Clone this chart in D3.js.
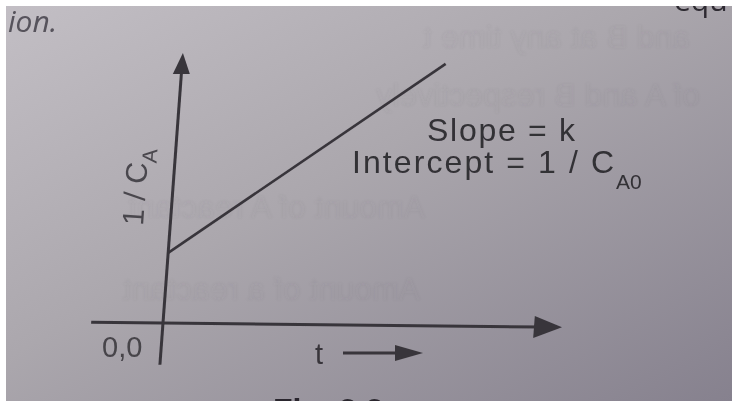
<!DOCTYPE html>
<html>
<head>
<meta charset="utf-8">
<script src="https://cdn.jsdelivr.net/npm/d3@7"></script>
<style>
  html, body { margin: 0; padding: 0; background: #fff; }
  svg { display: block; }
</style>
</head>
<body>
<svg id="fig" width="732" height="401"></svg>
<script>
// Second-order kinetics plot: 1/CA against t is a straight line
const tValues = [0, 6.6];          // time, arbitrary units
const invCA = [2.6, 9.7];          // 1 / CA at those times
const xAxisSpan = [-1.8, 10];      // extent of the t axis line
const yAxisSpan = [-1.55, 10];     // extent of the 1/CA axis line

const W = 732, H = 401;
const ink = "#38353b";
const svg = d3.select("#fig");
const defs = svg.append("defs");

// paper tone
const grad = defs.append("linearGradient").attr("id", "paper")
  .attr("x1", 0).attr("y1", 0).attr("x2", 1).attr("y2", 1);
grad.append("stop").attr("offset", 0).attr("stop-color", "#c3bfc5");
grad.append("stop").attr("offset", 0.45).attr("stop-color", "#aba7ad");
grad.append("stop").attr("offset", 1).attr("stop-color", "#86818e");

const soft = defs.append("filter").attr("id", "soft");
soft.append("feGaussianBlur").attr("stdDeviation", 0.55);
const haze = defs.append("filter").attr("id", "haze");
haze.append("feGaussianBlur").attr("stdDeviation", 1.4);

svg.append("rect").attr("width", W).attr("height", H).attr("fill", "url(#paper)");

// faint show-through of the reverse page (mirrored)
const reverseLines = [
  { text: "and B at any time t", x: 690, y: 48 },
  { text: "of A and B respectively", x: 700, y: 106 },
  { text: "Amount of A reactant", x: 425, y: 218 },
  { text: "Amount of a reactant", x: 420, y: 300 }
];
svg.append("g").attr("filter", "url(#haze)")
  .selectAll("text").data(reverseLines).join("text")
  .attr("transform", d => `translate(${d.x},${d.y}) scale(-1,1)`)
  .attr("font-family", "Liberation Sans, Arial, sans-serif")
  .attr("font-size", 32)
  .attr("fill", "#4a4550")
  .attr("opacity", 0.045)
  .text(d => d.text);

const ink_g = svg.append("g").attr("filter", "url(#soft)");

// surrounding page text
ink_g.append("text").attr("x", 8).attr("y", 32)
  .attr("font-family", "Open Sans, sans-serif").attr("font-style", "italic")
  .attr("font-size", 30).attr("fill", "#57535b").text("ion.");
ink_g.append("text").attr("x", 674).attr("y", 11)
  .attr("font-family", "Open Sans, sans-serif")
  .attr("font-size", 30).attr("fill", "#2e2b31").text("equ");
ink_g.append("text").attr("x", 273).attr("y", 421)
  .attr("font-family", "Liberation Sans, Arial, sans-serif").attr("font-weight", "bold")
  .attr("font-size", 32).attr("fill", "#2b282e").text("Fig. 2.2");

// plot frame: slightly sheared, as printed
const x = d3.scaleLinear().domain([0, 10]).range([0, 399]);
const y = d3.scaleLinear().domain([0, 10]).range([0, -270]);
const plot = ink_g.append("g")
  .attr("transform", "matrix(1,0.0107,-0.0737,1,163,323)");

// t axis with arrowhead
plot.append("line")
  .attr("x1", x(xAxisSpan[0])).attr("y1", 0)
  .attr("x2", x(xAxisSpan[1]) - 20).attr("y2", 0)
  .attr("stroke", ink).attr("stroke-width", 3);
plot.append("path")
  .attr("d", `M${x(xAxisSpan[1])},0 L${x(xAxisSpan[1]) - 28},-11 L${x(xAxisSpan[1]) - 28},11 Z`)
  .attr("fill", ink);

// 1/CA axis with arrowhead
plot.append("line")
  .attr("x1", 0).attr("y1", y(yAxisSpan[0]))
  .attr("x2", 0).attr("y2", y(yAxisSpan[1]) + 16)
  .attr("stroke", ink).attr("stroke-width", 3);
plot.append("path")
  .attr("d", `M0,${y(yAxisSpan[1])} L-8.5,${y(yAxisSpan[1]) + 21} L8.5,${y(yAxisSpan[1]) + 21} Z`)
  .attr("fill", ink);

// the straight line
const pts = tValues.map((t, i) => [x(t), y(invCA[i])]);
plot.append("path")
  .attr("d", d3.line()(pts))
  .attr("fill", "none").attr("stroke", ink).attr("stroke-width", 2.7);

// labels
const font = "Liberation Sans, Arial, Helvetica, sans-serif";
ink_g.append("text").attr("x", 102).attr("y", 357)
  .attr("font-family", font).attr("font-size", 29).attr("fill", "#47444a").text("0,0");

ink_g.append("text").attr("x", 315).attr("y", 364)
  .attr("font-family", font).attr("font-size", 29).attr("fill", ink).text("t");
ink_g.append("line").attr("x1", 343).attr("y1", 353).attr("x2", 400).attr("y2", 353)
  .attr("stroke", ink).attr("stroke-width", 3);
ink_g.append("path").attr("d", "M423,353 L395,345 L395,361 Z").attr("fill", ink);

const yLab = ink_g.append("text")
  .attr("transform", "translate(143,226) rotate(-86)")
  .attr("font-family", font).attr("font-size", 30).attr("fill", "#4a474d");
yLab.append("tspan").text("1 / C");
yLab.append("tspan").attr("font-size", 21).attr("dy", 9).text("A");

const ann = ink_g.append("g").attr("font-family", font).attr("fill", "#333036");
ann.append("text").attr("x", 427).attr("y", 141).attr("font-size", 32)
  .attr("textLength", 148).text("Slope = k");
const inter = ann.append("text").attr("x", 352).attr("y", 173).attr("font-size", 32);
inter.append("tspan").attr("textLength", 262).text("Intercept = 1 / C");
inter.append("tspan").attr("font-size", 21).attr("dy", 16).text("A0");

// white scan margins along the top and left edges
svg.append("rect").attr("width", W).attr("height", 6).attr("fill", "#fff");
svg.append("rect").attr("width", 6).attr("height", H).attr("fill", "#fff");
</script>
</body>
</html>
